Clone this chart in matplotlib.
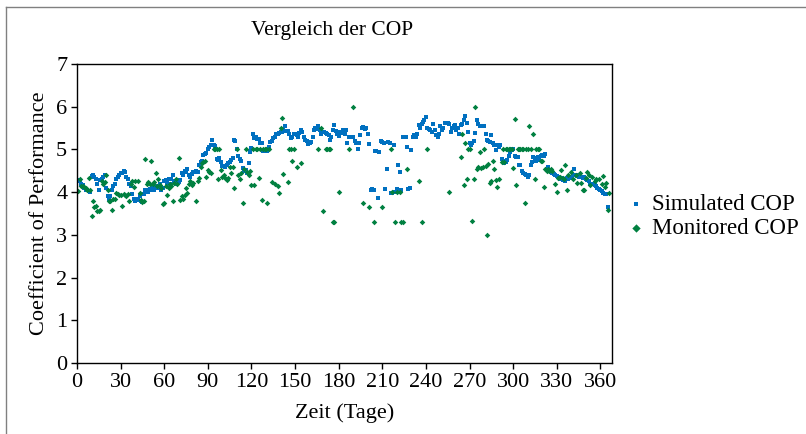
import numpy as np
import matplotlib
matplotlib.use("Agg")
import matplotlib.pyplot as plt
from matplotlib.lines import Line2D

# Simulated COP, one value per day (1..365)
sim_cop = [
    4.28, 4.25, 4.20, 4.17, 4.10, 4.05, 4.05, 4.03, 4.00, 4.37,
    4.40, 4.35, 4.30, 4.20, 4.05, 4.28, 4.30, 4.35, 4.40, 4.10,
    3.90, 3.85, 3.90, 4.05, 4.15, 4.20, 4.30, 4.35, 4.40, 4.45,
    4.45, 4.50, 4.48, 4.35, 4.30, 4.20, 4.15, 3.95, 3.85, 3.80,
    3.82, 3.85, 3.90, 3.80, 3.78, 3.95, 4.05, 4.05, 4.00, 4.08,
    4.05, 4.10, 4.05, 4.12, 4.10, 4.15, 4.20, 4.05, 4.10, 4.25,
    4.28, 4.22, 4.30, 4.18, 4.30, 4.40, 4.25, 4.20, 4.22, 4.24,
    4.28, 4.45, 4.40, 4.50, 4.48, 4.55, 4.40, 4.36, 4.42, 4.48,
    4.48, 4.50, 4.48, 4.63, 4.70, 4.72, 4.88, 4.90, 4.92, 5.00,
    5.05, 5.10, 5.22, 5.10, 5.08, 4.77, 4.75, 4.80, 4.70, 4.62,
    4.62, 4.60, 4.63, 4.68, 4.70, 4.75, 4.80, 5.22, 5.20, 5.00,
    4.85, 4.77, 4.72, 4.56, 4.50, 4.52, 4.45, 4.68, 4.95, 5.03,
    5.37, 5.27, 5.30, 5.25, 5.25, 5.15, 5.15, 4.96, 4.96, 4.98,
    4.96, 5.05, 5.17, 5.20, 5.27, 5.30, 5.35, 5.37, 5.38, 5.40,
    5.40, 5.45, 5.55, 5.42, 5.43, 5.35, 5.27, 5.30, 5.35, 5.37,
    5.33, 5.30, 5.38, 5.45, 5.40, 5.30, 5.23, 5.20, 5.13, 5.15,
    5.18, 5.30, 5.46, 5.50, 5.48, 5.55, 5.45, 5.37, 5.40, 5.41,
    5.38, 5.35, 5.33, 5.22, 5.30, 5.45, 5.57, 5.42, 5.37, 5.32,
    5.41, 5.38, 5.45, 5.37, 5.46, 5.15, 5.29, 5.30, 5.28, 5.30,
    5.20, 5.15, 5.01, 5.15, 5.33, 5.50, 5.52, 5.48, 5.50, 5.37,
    5.13, 4.06, 4.08, 4.05, 4.96, 4.96, 3.87, 4.95, 5.20, 5.18,
    5.15, 4.07, 4.55, 5.18, 5.15, 3.98, 3.98, 5.10, 4.00, 4.07,
    4.63, 4.48, 4.05, 5.29, 5.30, 5.29, 5.05, 4.08, 4.10, 4.99,
    5.30, 5.33, 5.28, 5.35, 5.57, 5.50, 5.60, 5.65, 5.70, 5.75,
    5.50, 5.48, 5.46, 5.40, 5.60, 5.45, 5.33, 5.30, 5.37, 5.55,
    5.46, 5.50, 5.63, 5.63, 5.62, 5.60, 5.40, 5.50, 5.55, 5.57,
    5.45, 5.50, 5.37, 5.57, 5.60, 5.70, 5.78, 5.63, 5.40, 5.15,
    5.10, 5.15, 5.20, 5.38, 5.70, 5.60, 5.56, 5.55, 5.56, 5.55,
    5.37, 5.22, 5.20, 5.18, 5.33, 5.15, 5.10, 4.99, 5.10, 5.05,
    5.10, 4.77, 4.72, 4.68, 4.70, 4.76, 4.84, 4.95, 4.98, 5.00,
    4.84, 4.82, 4.82, 4.64, 4.64, 4.50, 4.45, 4.42, 4.40, 4.35,
    4.40, 4.64, 4.70, 4.82, 4.80, 4.72, 4.82, 4.75, 4.85, 4.88,
    4.85, 4.90, 4.55, 4.58, 4.52, 4.48, 4.44, 4.42, 4.40, 4.38,
    4.35, 4.30, 4.32, 4.29, 4.30, 4.25, 4.33, 4.30, 4.32, 4.36,
    4.40, 4.55, 4.40, 4.38, 4.36, 4.36, 4.36, 4.34, 4.36, 4.30,
    4.29, 4.25, 4.20, 4.20, 4.18, 4.16, 4.14, 4.10, 4.08, 4.06,
    4.03, 3.98, 3.96, 3.95, 3.66,
]
sim_days = list(range(1, len(sim_cop) + 1))

# Monitored COP (days with a measurement)
mon_days = [
    1, 2, 3, 4, 5, 6, 7, 8, 9, 10, 11, 12, 13, 14, 15, 16, 17, 18, 19, 20,
    21, 22, 23, 24, 25, 26, 27, 28, 29, 30, 31, 32, 33, 34, 35, 36, 37, 38, 39, 40,
    42, 43, 44, 45, 46, 47, 48, 49, 50, 51, 52, 53, 54, 55, 56, 57, 58, 59, 60,
    61, 62, 63, 64, 65, 66, 67, 68, 69, 70, 71, 72, 73, 74, 75, 76, 77, 78, 79, 80,
    82, 83, 84, 85, 86, 87, 88, 89, 90, 91, 92, 94, 95, 96, 97, 98, 99, 100,
    101, 102, 103, 104, 105, 106, 107, 108, 110, 111, 112, 113, 114, 115, 116, 117,
    118, 119, 120, 121, 122,
    123, 124, 125, 126, 127, 128, 129, 130, 131, 132, 134, 136, 138, 139, 140, 141,
    142, 145, 146, 147, 148, 149, 151, 154, 166, 168, 169, 171, 172, 173, 174, 176,
    177, 180, 187, 190, 197, 201,
    204, 210, 216, 217, 219, 220, 222, 223, 224, 227, 235, 237, 241, 256,
    264, 265, 266, 267, 268, 269, 270, 272, 273, 274, 275, 276, 277, 278, 279, 280,
    281, 282, 283, 284, 285, 286, 287, 288, 289, 290, 292, 293, 294, 295, 296, 297,
    298, 299, 300, 301, 302, 303, 304, 305, 306, 307, 308, 309, 310,
    311, 312, 314, 315, 316, 317, 318, 319, 320, 321, 322, 323, 324, 325, 326, 327,
    329, 330, 331, 332, 333, 334, 335, 336, 337, 338, 340, 341, 343, 344, 346, 347,
    348, 349, 350, 351, 352, 353, 354, 356, 357, 359, 361, 362, 363, 364, 365, 366,
]
mon_cop = [
    4.02, 4.30, 4.14, 4.15, 4.12, 4.10, 4.05, 4.33, 4.05, 3.45, 3.80, 3.65, 3.67, 3.57, 3.55, 3.58, 4.25, 4.20, 4.24, 4.40,
    4.05, 3.80, 3.80, 3.58, 3.85, 3.85, 3.97, 3.95, 3.93, 3.93, 3.67, 3.95, 3.93, 3.90, 3.96, 3.80, 4.20, 4.25, 4.12, 4.25,
    4.27, 3.97, 3.82, 3.78, 3.80, 4.77, 4.20, 4.24, 4.20, 4.72, 4.18, 4.24, 4.45, 4.14, 4.30, 4.16, 4.10, 3.72, 3.74,
    4.15, 3.93, 4.10, 4.20, 4.15, 3.80, 4.22, 4.30, 4.20, 4.80, 3.82, 3.90, 3.85, 3.93, 4.10, 3.97, 4.20, 4.26, 4.17, 4.22,
    3.80, 4.25, 4.33, 4.60, 4.68, 4.70, 4.72, 4.35, 4.52, 4.48, 4.45, 5.00, 5.00, 5.00, 4.30, 5.00, 4.52, 4.36,
    4.40, 4.33, 4.29, 4.32, 4.60, 4.45, 4.60, 4.10, 5.00, 4.40, 4.30, 4.45, 3.75, 4.55, 5.00, 4.48,
    4.40, 4.50, 4.16, 5.00, 4.16,
    5.00, 5.00, 4.33, 5.00, 3.82, 5.00, 5.00, 5.00, 3.75, 5.00, 4.23, 4.20, 4.15, 3.99, 5.50, 5.73,
    4.43, 4.23, 5.00, 5.00, 4.72, 5.00, 4.58, 4.69, 5.00, 5.50, 3.57, 5.00, 5.00, 5.00, 5.00, 3.30,
    3.30, 4.00, 5.00, 6.00, 3.75, 3.66,
    3.30, 3.66, 5.00, 4.00, 3.30, 4.00, 4.00, 3.30, 3.30, 4.55, 4.25, 3.30, 5.00, 4.00,
    4.83, 5.35, 4.17, 5.15, 4.30, 5.00, 5.00, 3.33, 4.30, 6.00, 4.55, 4.58, 4.95, 4.57, 4.60, 5.00,
    4.62, 3.00, 4.65, 4.22, 4.25, 4.72, 4.55, 4.28, 4.12, 4.30, 4.70, 5.00, 4.70, 5.00, 5.00, 5.00,
    5.00, 5.00, 4.56, 5.72, 4.16, 5.00, 5.00, 5.00, 5.00, 5.00, 3.75, 5.00, 5.00,
    5.55, 5.00, 5.37, 4.30, 5.00, 5.00, 5.00, 4.72, 4.72, 4.13, 4.55, 4.50, 4.55, 4.50, 4.55, 4.50,
    4.20, 4.00, 4.33, 4.35, 4.52, 4.33, 4.30, 4.64, 4.06, 4.40, 4.48, 4.30, 4.40, 4.22, 4.45, 4.22,
    4.06, 4.06, 4.33, 4.48, 4.40, 4.16, 4.35, 4.25, 4.30, 4.30, 4.20, 4.38, 4.12, 4.22, 3.58, 3.98,
]

x_ticks = list(range(0, 361, 30))
y_ticks = list(range(0, 8))

plt.rcParams['font.family'] = ['Liberation Serif', 'DejaVu Serif']

fig = plt.figure(figsize=(8.06, 4.34), dpi=100)
ax = fig.add_axes([77 / 806, 1 - 363 / 434, (612 - 77) / 806, (363 - 64) / 434])

ax.scatter(sim_days, sim_cop, marker='s', s=5, color='#0070C0', linewidths=0, label='Simulated COP')
ax.scatter(mon_days, mon_cop, marker='D', s=8, color='#008040', linewidths=0, label='Monitored COP')

ax.set_xlim(0, 368)
ax.set_ylim(0, 7)
ax.set_xticks(x_ticks)
ax.set_yticks(y_ticks)
ax.tick_params(direction='out', length=4, width=1, labelsize=16, pad=3)
for s in ax.spines.values():
    s.set_linewidth(1)
    s.set_color('black')

ax.set_xlabel("Zeit (Tage)", fontsize=16, labelpad=8)
ax.set_ylabel("Coefficient of Performance", fontsize=16, labelpad=5)
fig.text(332 / 806, 1 - 31 / 434, "Vergleich der COP", ha='center', va='center', fontsize=15.5)

leg = ax.legend(loc='center left', bbox_to_anchor=(0.99, 0.49), frameon=False, fontsize=16.5,
                handletextpad=0.3, labelspacing=0.12, markerscale=1.5, handlelength=0.8)

# outer chart frame
fig.add_artist(Line2D([6 / 806, 1], [1 - 7 / 434, 1 - 7 / 434], color='#808080', lw=1))
fig.add_artist(Line2D([6 / 806, 6 / 806], [0, 1 - 7 / 434], color='#808080', lw=1))

fig.savefig("out.png", dpi=100)
